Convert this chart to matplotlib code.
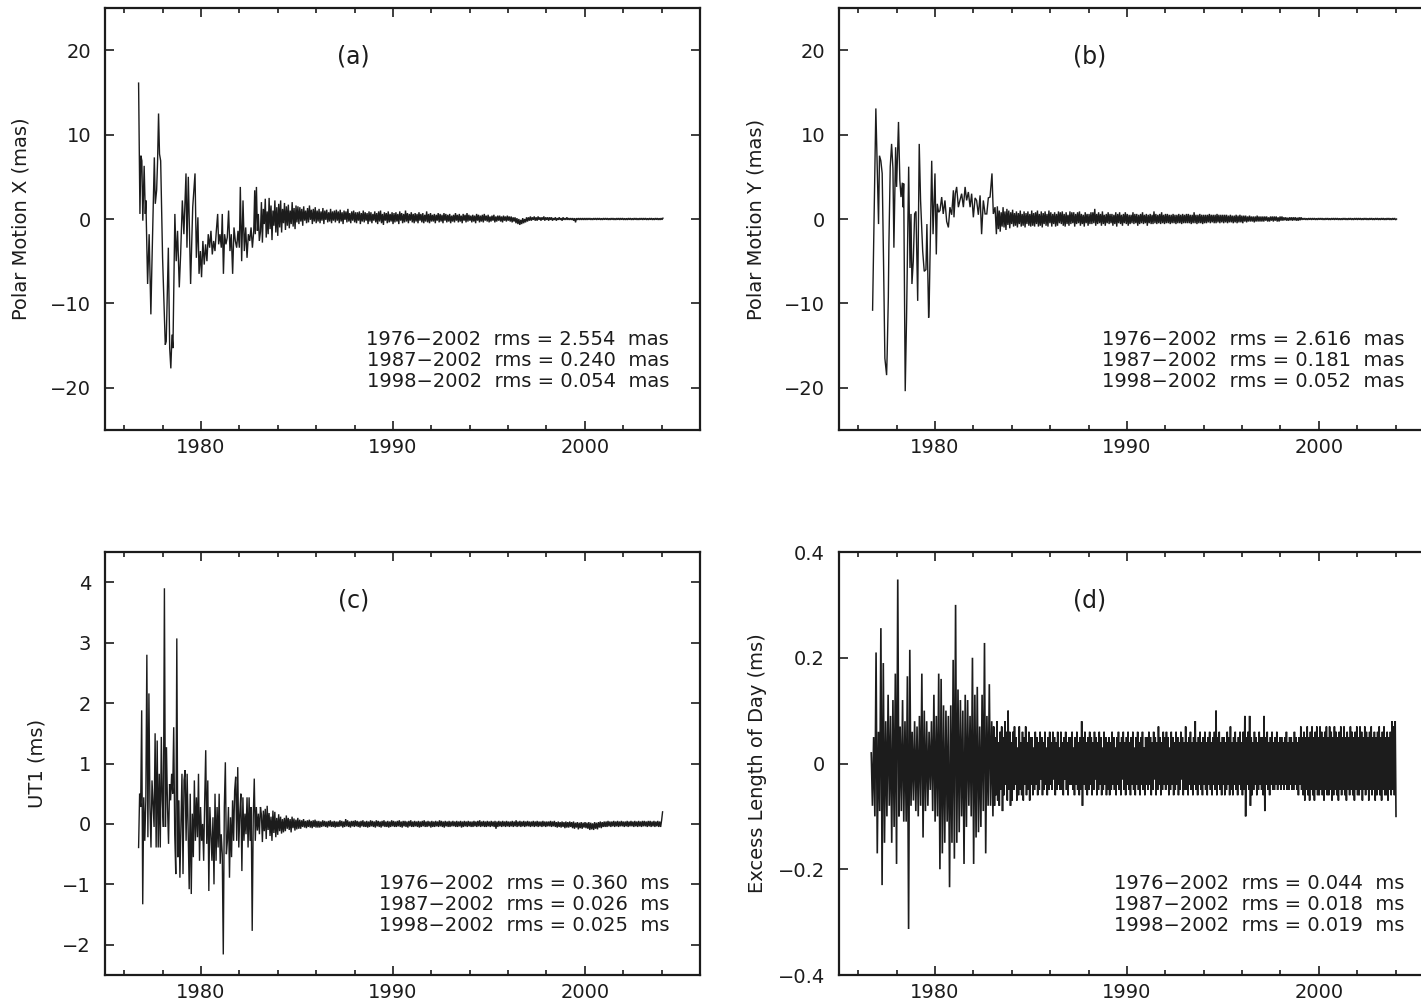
import numpy as np
import matplotlib
matplotlib.use("Agg")
import matplotlib.pyplot as plt
from matplotlib.ticker import MultipleLocator, FuncFormatter

plt.rcParams['font.family'] = ['DejaVu Sans']
plt.rcParams['axes.unicode_minus'] = True

# ---------------- data ----------------
# Panel (a): Polar motion X residuals (mas)
a_early_t = [1976.75, 1976.82, 1976.87, 1976.92, 1976.97, 1977.04, 1977.10, 1977.13, 1977.22, 1977.30,
             1977.39, 1977.44, 1977.57, 1977.62, 1977.69, 1977.74, 1977.79, 1977.84, 1977.90, 1978.00,
             1978.14, 1978.19, 1978.30, 1978.37, 1978.43, 1978.49, 1978.54, 1978.64, 1978.71, 1978.78,
             1978.87, 1978.94, 1979.03, 1979.11, 1979.22, 1979.27, 1979.34, 1979.46, 1979.57, 1979.69,
             1979.76, 1979.84, 1979.90, 1979.97, 1980.03, 1980.10, 1980.17, 1980.24, 1980.31, 1980.38,
             1980.45, 1980.52, 1980.59, 1980.66, 1980.73, 1980.80, 1980.87, 1980.92, 1980.99, 1981.06,
             1981.11, 1981.17, 1981.23, 1981.30, 1981.37, 1981.44, 1981.51, 1981.58, 1981.65, 1981.72,
             1981.79, 1981.86, 1981.93, 1982.00, 1982.05, 1982.12, 1982.19, 1982.26, 1982.33, 1982.40,
             1982.47, 1982.54, 1982.61, 1982.68, 1982.75, 1982.80, 1982.83, 1982.89, 1982.94, 1982.99,
             1983.04]
a_early_v = [16.1, 0.6, 7.5, 6.9, -0.2, 6.3, 0.6, 2.2, -7.7, -1.8,
             -11.3, -5.8, 7.3, 1.8, 3.4, 6.9, 12.5, 7.7, 6.9, -4.6,
             -14.9, -14.5, -3.4, -15.3, -17.7, -13.7, -15.3, 0.6, -5.0, -1.4,
             -8.1, -4.2, 2.2, -1.8, 5.4, -3.4, 5.0, -7.7, 1.4, 5.4,
             -4.6, 0.2, -6.5, -3.8, -6.9, -2.6, -5.4, -3.0, -5.0, -1.8,
             -3.4, -1.4, -4.2, -2.6, -3.8, -1.4, 0.6, -3.0, -1.8, -3.4,
             0.6, -6.5, -1.8, -3.0, -2.2, 1.0, -3.8, -1.8, -6.5, -1.0,
             -2.6, -3.4, -1.4, -3.4, 3.8, -5.0, 2.2, -3.8, -1.0, -4.6,
             -1.8, -2.6, -1.0, -3.4, -1.4, 3.4, -1.8, 3.8, -1.4, 0.6,
             -2.6]
a_late_span = (1983.10, 2004.07)
a_late_v = [
    -1.5, 2.0, -2.8, 1.2, -0.6, 2.4, -2.2, 0.9, -1.8, 2.5, -1.2, 1.6, -2.5, 1.0, -0.8, 2.2, -1.6, 1.4, -2.0, 1.8,
    -1.0, 2.2, -1.6, 1.2, -0.5, 1.9, -1.3, 1.5, -0.8, 1.7, -1.1, 1.0, -0.6, 2.0, -0.9, 1.3, -1.2, 1.6, -0.4, 1.5,
    -0.6, 1.4, -0.3, 1.2, -0.8, 1.5, -0.2, 1.0, -0.5, 1.3, -0.4, 1.6, -0.1, 1.1, -0.6, 1.2, -0.3, 1.4, -0.5, 1.0,
    -0.3, 1.2, -0.5, 0.9, -0.2, 1.3, -0.6, 1.0, -0.1, 1.1, -0.4, 0.8, -0.3, 1.2, -0.5, 0.9, -0.2, 1.0, -0.4, 1.1,
    -0.2, 0.9, -0.5, 1.1, -0.3, 0.8, -0.6, 1.0, -0.1, 0.9, -0.4, 1.2, -0.3, 0.7, -0.5, 0.9, -0.2, 1.0, -0.4, 0.8,
    -0.5, 0.8, -0.2, 0.9, -0.6, 0.7, -0.3, 1.0, -0.4, 0.8, -0.2, 0.7, -0.6, 0.9, -0.3, 0.8, -0.5, 0.6, -0.2, 0.9,
    -0.4, 0.7, -0.6, 0.9, -0.3, 1.0, -0.5, 0.6, -0.7, 0.8, -0.2, 0.7, -0.5, 0.9, -0.4, 0.6, -0.3, 0.8, -0.6, 0.7,
    -0.4, 0.8, -0.3, 0.6, -0.6, 0.9, -0.2, 0.7, -0.5, 0.6, -0.4, 1.0, -0.3, 0.7, -0.5, 0.6, -0.2, 0.8, -0.4, 0.6,
    -0.5, 0.7, -0.3, 0.6, -0.5, 0.8, -0.2, 0.6, -0.4, 0.7, -0.5, 0.5, -0.3, 0.9, -0.4, 0.6, -0.5, 0.7, -0.3, 0.5,
    -0.3, 0.6, -0.5, 0.5, -0.2, 0.7, -0.4, 0.6, -0.3, 0.5, -0.5, 0.7, -0.2, 0.6, -0.4, 0.5, -0.3, 0.6, -0.5, 0.4,
    -0.3, 0.5, -0.4, 0.7, -0.2, 0.5, -0.4, 0.6, -0.3, 0.4, -0.5, 0.6, -0.2, 0.5, -0.4, 0.7, -0.3, 0.5, -0.2, 0.4,
    -0.4, 0.5, -0.3, 0.4, -0.5, 0.6, -0.2, 0.5, -0.4, 0.4, -0.3, 0.5, -0.4, 0.6, -0.2, 0.4, -0.3, 0.5, -0.4, 0.3,
    -0.3, 0.4, -0.2, 0.5, -0.4, 0.3, -0.3, 0.4, -0.2, 0.4, -0.3, 0.3, -0.4, 0.4, -0.2, 0.3, -0.3, 0.4, -0.2, 0.3,
    -0.3, 0.3, -0.4, 0.2, -0.3, 0.2, -0.5, 0.1, -0.6, 0.0, -0.7, -0.1, -0.6, 0.1, -0.5, 0.0, -0.4, 0.2, -0.3, 0.2,
    -0.2, 0.3, -0.2, 0.2, -0.1, 0.3, -0.2, 0.2, -0.2, 0.3, -0.1, 0.2, -0.2, 0.2, -0.1, 0.3, -0.2, 0.2, -0.1, 0.2,
    -0.2, 0.2, -0.1, 0.2, -0.2, 0.1, -0.1, 0.2, -0.2, 0.1, -0.1, 0.2, -0.1, 0.1, -0.2, 0.2, -0.1, 0.1, -0.1, 0.2,
    -0.1, 0.1, -0.1, 0.1, -0.1, 0.1, -0.2, 0.1, -0.4, 0.1, -0.1, 0.1, -0.1, 0.1, -0.1, 0.1, -0.1, 0.1, -0.1, 0.1,
    -0.1, 0.1, -0.08, 0.1, -0.1, 0.08, -0.1, 0.1, -0.08, 0.1, -0.1, 0.1, -0.08, 0.1, -0.1, 0.08, -0.1, 0.1, -0.08, 0.1,
    -0.08, 0.1, -0.1, 0.08, -0.1, 0.1, -0.08, 0.1, -0.1, 0.08, -0.1, 0.1, -0.08, 0.1, -0.1, 0.1, -0.08, 0.1, -0.1, 0.08,
    -0.1, 0.08, -0.1, 0.1, -0.08, 0.1, -0.1, 0.08, -0.1, 0.1, -0.08, 0.1, -0.1, 0.08, -0.1, 0.1, -0.08, 0.1, -0.1, 0.1,
    -0.08, 0.1, -0.1, 0.08, -0.1, 0.1, -0.08, 0.1, -0.1, 0.08, -0.1, 0.1, -0.08, 0.1, -0.1, 0.08, -0.1, 0.1, -0.08, 0.1]

# Panel (b): Polar motion Y residuals (mas)
b_early_t = [1976.75, 1976.92, 1977.01, 1977.06, 1977.11, 1977.18, 1977.25, 1977.32, 1977.39, 1977.48,
             1977.51, 1977.57, 1977.60, 1977.67, 1977.74, 1977.81, 1977.86, 1977.95, 1978.00, 1978.10,
             1978.17, 1978.23, 1978.30, 1978.33, 1978.37, 1978.45, 1978.52, 1978.63, 1978.70, 1978.75,
             1978.80, 1978.87, 1978.94, 1979.01, 1979.10, 1979.18, 1979.25, 1979.36, 1979.44, 1979.53,
             1979.58, 1979.67, 1979.70, 1979.83, 1979.90, 1980.00, 1980.07, 1980.12, 1980.19, 1980.26,
             1980.35, 1980.43, 1980.52, 1980.61, 1980.70, 1980.78, 1980.87, 1980.96, 1980.99, 1981.06,
             1981.13, 1981.22, 1981.30, 1981.39, 1981.48, 1981.57, 1981.65, 1981.74, 1981.83, 1981.91,
             1982.00, 1982.09, 1982.17, 1982.26, 1982.35, 1982.43, 1982.52, 1982.61, 1982.70, 1982.78,
             1982.87, 1982.97, 1983.04, 1983.13]
b_early_v = [-10.8, 13.1, 4.6, -0.6, 7.5, 6.9, 5.4, -5.0, -16.5, -18.5,
             -16.0, -9.3, -3.0, 6.2, 8.9, 6.0, -3.4, 8.5, 3.8, 11.5,
             4.6, 2.6, 4.3, 1.4, 4.2, -20.4, -11.7, 6.2, -5.8, 0.6,
             -7.7, -5.0, 0.6, 0.9, -9.7, 8.9, 2.2, -3.8, -6.2, -6.0,
             -0.6, -11.7, -10.0, 6.9, -1.8, 5.4, -4.2, 1.8, 0.8, 1.0,
             2.6, 0.6, 2.2, -0.3, -1.0, 1.4, 0.5, 3.4, 0.2, 3.0,
             3.8, 1.4, 2.2, 3.0, 1.4, 3.8, 2.2, 3.2, 1.4, 3.0,
             0.2, 2.5, 2.2, 0.5, 2.8, -1.8, 2.2, 0.6, 0.6, 2.5,
             2.6, 5.4, 0.6, 1.4]
b_late_span = (1983.20, 2004.05)
b_late_v = [
    -1.8, 1.5, -1.2, 1.0, -1.5, 0.8, -0.9, 1.4, -1.0, 0.9, -1.3, 1.2, -0.7, 1.0, -1.1, 0.8, -0.6, 1.1, -0.9, 0.7,
    -0.8, 0.9, -1.0, 0.7, -0.6, 1.0, -0.9, 0.6, -0.8, 0.9, -1.0, 0.7, -0.6, 0.9, -0.8, 0.6, -0.9, 1.0, -0.8, 0.7,
    -0.9, 0.8, -0.6, 1.0, -0.9, 0.6, -0.8, 0.9, -1.0, 0.7, -0.6, 0.9, -0.8, 0.6, -0.9, 1.0, -0.5, 0.8, -0.9, 0.6,
    -0.6, 0.8, -0.9, 0.6, -0.8, 0.9, -0.5, 0.8, -0.6, 0.9, -0.8, 0.6, -0.9, 0.8, -0.6, 0.5, -0.8, 0.9, -0.6, 0.8,
    -0.5, 0.8, -0.9, 0.6, -0.6, 0.8, -0.5, 0.9, -0.8, 0.6, -0.6, 0.5, -0.9, 0.8, -0.5, 0.6, -0.8, 0.6, -0.6, 0.8,
    -0.6, 0.8, -0.5, 1.2, -0.8, 0.6, -0.6, 0.8, -0.5, 0.6, -0.8, 0.9, -0.6, 0.5, -0.8, 0.6, -0.5, 0.8, -0.6, 0.6,
    -0.5, 0.6, -0.8, 0.5, -0.6, 0.8, -0.9, 0.6, -0.5, 0.8, -0.6, 0.5, -0.8, 0.6, -0.5, 0.8, -0.6, 0.6, -0.8, 0.5,
    -0.6, 0.5, -0.5, 0.8, -0.6, 0.6, -0.5, 0.6, -0.8, 0.5, -0.6, 0.6, -0.5, 0.8, -0.6, 0.5, -0.5, 0.6, -0.8, 0.5,
    -0.5, 0.6, -0.6, 0.5, -0.6, 0.9, -0.5, 0.6, -0.6, 0.5, -0.5, 0.6, -0.6, 0.8, -0.5, 0.5, -0.6, 0.6, -0.5, 0.6,
    -0.5, 0.5, -0.6, 0.5, -0.5, 0.6, -0.5, 0.5, -0.6, 0.5, -0.5, 0.6, -0.5, 0.5, -0.6, 0.6, -0.5, 0.5, -0.5, 0.6,
    -0.5, 0.6, -0.5, 0.5, -0.6, 0.5, -0.5, 0.8, -0.5, 0.5, -0.6, 0.5, -0.5, 0.6, -0.5, 0.5, -0.6, 0.5, -0.5, 0.5,
    -0.5, 0.5, -0.4, 0.6, -0.5, 0.5, -0.4, 0.5, -0.5, 0.5, -0.5, 0.6, -0.4, 0.5, -0.5, 0.5, -0.4, 0.5, -0.5, 0.5,
    -0.4, 0.5, -0.5, 0.4, -0.4, 0.5, -0.4, 0.4, -0.5, 0.4, -0.4, 0.5, -0.5, 0.4, -0.4, 0.5, -0.4, 0.4, -0.5, 0.4,
    -0.3, 0.4, -0.4, 0.3, -0.3, 0.4, -0.3, 0.3, -0.3, 0.3, -0.4, 0.3, -0.3, 0.4, -0.3, 0.3, -0.3, 0.3, -0.3, 0.3,
    -0.3, 0.3, -0.2, 0.3, -0.3, 0.2, -0.3, 0.3, -0.2, 0.3, -0.3, 0.3, -0.2, 0.3, -0.3, 0.2, -0.3, 0.3, -0.2, 0.3,
    -0.2, 0.2, -0.15, 0.2, -0.2, 0.15, -0.2, 0.2, -0.15, 0.2, -0.2, 0.2, -0.15, 0.2, -0.2, 0.15, -0.2, 0.2, -0.15, 0.2,
    -0.1, 0.1, -0.08, 0.1, -0.1, 0.08, -0.1, 0.1, -0.08, 0.1, -0.1, 0.1, -0.08, 0.1, -0.1, 0.08, -0.1, 0.1, -0.08, 0.1,
    -0.08, 0.1, -0.1, 0.08, -0.1, 0.1, -0.08, 0.1, -0.1, 0.08, -0.1, 0.1, -0.08, 0.1, -0.1, 0.1, -0.08, 0.1, -0.1, 0.08,
    -0.1, 0.08, -0.1, 0.1, -0.08, 0.1, -0.1, 0.08, -0.1, 0.1, -0.08, 0.1, -0.1, 0.08, -0.1, 0.1, -0.08, 0.1, -0.1, 0.1,
    -0.08, 0.1, -0.1, 0.08, -0.1, 0.1, -0.08, 0.1, -0.1, 0.08, -0.1, 0.1, -0.08, 0.1, -0.1, 0.08, -0.1, 0.1, -0.08, 0.1,
    -0.1, 0.08, -0.1, 0.1, -0.08, 0.1, -0.1, 0.08, -0.1, 0.1, -0.08, 0.1, -0.1, 0.08, -0.1, 0.1, -0.08, 0.1, -0.1, 0.0]

# Panel (c): UT1 residuals (ms)
c_early_span = (1976.75, 1983.10)
c_early_v = [-0.39, 0.50, 0.28, 1.88, -1.33, 0.44, -0.28, 0.39, 2.80, -0.22,
             2.16, 0.28, -0.39, 0.72, 0.33, -0.05, 1.50, -0.39, 1.38, -0.39,
             0.83, -0.39, 1.44, 0.39, -0.05, 3.90, -0.05, 1.27, 0.28, -0.33,
             0.66, 0.39, 0.83, 0.50, 1.60, -0.17, -0.83, 3.07, -0.55, 0.39,
             -0.89, 0.00, 0.83, -0.83, 0.72, 0.89, -0.28, 0.83, -0.17, -1.08,
             0.50, -1.16, 0.17, -0.55, 0.72, -0.28, 0.44, -0.22, 0.83, -0.61,
             0.28, -0.28, 0.00, -0.61, 0.39, 1.22, -0.33, 0.72, -1.11, 0.28,
             -0.17, -0.61, 0.11, -1.00, 0.50, -0.61, 0.28, -0.39, 0.50, -0.66,
             -0.17, -0.50, -2.16, 0.28, 1.02, -0.50, -0.28, 0.28, -0.89, 0.11,
             -0.55, 0.39, -0.28, 0.55, 0.78, -0.28, 0.94, -0.39, 0.17, 0.50,
             -0.78, 0.44, -0.28, 0.17, -0.17, 0.44, -0.39, 0.44, -0.28, 0.28,
             -1.77, 0.11, 0.75, -0.28, 0.28, -0.11, 0.17, -0.17, 0.28]
c_late_span = (1983.15, 2004.05)
c_late_v = [
    0.15, -0.30, 0.22, -0.12, 0.25, -0.25, 0.30, -0.10, 0.18, -0.20, 0.12, -0.28, 0.22, -0.15, 0.20, -0.22, 0.10, -0.18, 0.16, -0.12,
    0.12, -0.16, 0.08, -0.14, 0.10, -0.12, 0.14, -0.08, 0.10, -0.10, 0.08, -0.14, 0.12, -0.07, 0.09, -0.11, 0.07, -0.09, 0.10, -0.08,
    0.07, -0.08, 0.06, -0.05, 0.08, -0.06, 0.05, -0.07, 0.06, -0.05, 0.07, -0.06, 0.05, -0.07, 0.06, -0.05, 0.07, -0.06, 0.05, -0.06,
    0.05, -0.06, 0.04, -0.05, 0.06, -0.04, 0.05, -0.05, 0.04, -0.06, 0.05, -0.04, 0.06, -0.05, 0.04, -0.05, 0.05, -0.06, 0.04, -0.05,
    0.04, -0.05, 0.06, -0.04, 0.05, -0.06, 0.04, -0.05, 0.08, -0.04, 0.06, -0.05, 0.04, -0.06, 0.05, -0.04, 0.05, -0.05, 0.06, -0.04,
    0.05, -0.05, 0.04, -0.06, 0.05, -0.04, 0.06, -0.05, 0.04, -0.05, 0.05, -0.06, 0.04, -0.05, 0.06, -0.04, 0.05, -0.05, 0.04, -0.06,
    0.06, -0.04, 0.05, -0.05, 0.04, -0.06, 0.05, -0.04, 0.06, -0.05, 0.04, -0.05, 0.05, -0.06, 0.04, -0.05, 0.06, -0.04, 0.05, -0.05,
    0.04, -0.05, 0.05, -0.04, 0.06, -0.05, 0.04, -0.06, 0.05, -0.04, 0.05, -0.05, 0.04, -0.06, 0.05, -0.04, 0.06, -0.05, 0.04, -0.05,
    0.05, -0.04, 0.04, -0.05, 0.05, -0.06, 0.04, -0.05, 0.05, -0.04, 0.06, -0.05, 0.04, -0.05, 0.05, -0.04, 0.04, -0.06, 0.05, -0.05,
    0.04, -0.05, 0.05, -0.04, 0.04, -0.05, 0.06, -0.04, 0.05, -0.05, 0.04, -0.06, 0.05, -0.04, 0.04, -0.05, 0.05, -0.05, 0.04, -0.04,
    0.05, -0.04, 0.04, -0.05, 0.05, -0.05, 0.04, -0.04, 0.05, -0.06, 0.04, -0.05, 0.05, -0.04, 0.04, -0.05, 0.05, -0.04, 0.04, -0.05,
    0.04, -0.05, 0.05, -0.04, 0.04, -0.05, 0.05, -0.04, 0.06, -0.05, 0.04, -0.04, 0.05, -0.05, 0.04, -0.05, 0.05, -0.04, 0.04, -0.05,
    0.05, -0.04, 0.04, -0.05, 0.05, -0.08, 0.04, -0.05, 0.05, -0.04, 0.04, -0.05, 0.05, -0.04, 0.04, -0.05, 0.05, -0.04, 0.04, -0.05,
    0.04, -0.04, 0.05, -0.05, 0.04, -0.04, 0.06, -0.05, 0.04, -0.04, 0.05, -0.05, 0.04, -0.04, 0.05, -0.05, 0.04, -0.04, 0.05, -0.04,
    0.04, -0.05, 0.04, -0.04, 0.05, -0.05, 0.04, -0.04, 0.05, -0.05, 0.04, -0.04, 0.04, -0.05, 0.05, -0.04, 0.04, -0.05, 0.04, -0.04,
    0.04, -0.04, 0.05, -0.05, 0.04, -0.04, 0.05, -0.05, 0.03, -0.06, 0.04, -0.05, 0.03, -0.06, 0.04, -0.05, 0.03, -0.07, 0.04, -0.06,
    0.03, -0.06, 0.04, -0.05, 0.03, -0.07, 0.04, -0.08, 0.02, -0.06, 0.03, -0.09, 0.02, -0.07, 0.03, -0.08, 0.02, -0.06, 0.03, -0.07,
    0.02, -0.08, 0.03, -0.10, 0.02, -0.09, 0.01, -0.10, 0.03, -0.08, 0.02, -0.09, 0.03, -0.06, 0.04, -0.07, 0.03, -0.05, 0.04, -0.05,
    0.04, -0.05, 0.05, -0.04, 0.04, -0.05, 0.04, -0.04, 0.05, -0.05, 0.04, -0.04, 0.05, -0.05, 0.04, -0.04, 0.05, -0.04, 0.04, -0.05,
    0.04, -0.04, 0.05, -0.05, 0.04, -0.04, 0.05, -0.04, 0.04, -0.05, 0.05, -0.04, 0.04, -0.05, 0.05, -0.04, 0.04, -0.05, 0.05, -0.04,
    0.05, -0.04, 0.04, -0.05, 0.05, -0.04, 0.05, -0.05, 0.04, -0.04, 0.05, -0.05, 0.04, -0.04, 0.05, -0.05, 0.04, -0.05, 0.06, 0.20]

# Panel (d): excess length of day residuals (ms)
d_early_span = (1976.68, 1983.02)
d_early_v = [0.02, -0.08, 0.05, -0.10, 0.21, -0.17, 0.06, -0.09, 0.256, -0.23,
             0.19, -0.15, 0.08, -0.10, 0.13, -0.08, 0.09, -0.15, 0.12, -0.12,
             0.17, -0.19, 0.348, -0.10, 0.07, -0.09, 0.12, -0.11, 0.08, -0.11,
             0.165, -0.313, 0.215, -0.08, 0.06, -0.07, 0.08, -0.09, 0.07, -0.10,
             0.09, -0.08, 0.17, -0.14, 0.10, -0.09, 0.08, -0.08, 0.06, -0.05,
             0.08, -0.09, 0.13, -0.11, 0.09, -0.10, 0.17, -0.20, 0.16, -0.17,
             0.11, -0.15, 0.10, -0.11, 0.09, -0.234, 0.11, -0.15, 0.196, -0.18,
             0.30, -0.15, 0.14, -0.13, 0.12, -0.10, 0.10, -0.19, 0.13, -0.12,
             0.12, -0.08, 0.09, -0.10, 0.20, -0.19, 0.13, -0.14, 0.145, -0.13,
             0.07, -0.12, 0.13, -0.09, 0.228, -0.17, 0.09, -0.08, 0.15, -0.08,
             0.08, -0.10]
d_late_span = (1983.06, 2004.02)
d_late_v = [
    0.07, -0.08, 0.05, -0.06, 0.08, -0.07, 0.04, -0.08, 0.06, -0.05, 0.07, -0.09, 0.05, -0.06, 0.08, -0.04, 0.06, -0.07, 0.10, -0.05, 0.06, -0.08, 0.04, -0.07,
    0.06, -0.05, 0.07, -0.04, 0.05, -0.07, 0.03, -0.06, 0.07, -0.05, 0.04, -0.06, 0.06, -0.07, 0.05, -0.04, 0.07, -0.06, 0.04, -0.05, 0.06, -0.07, 0.05, -0.04,
    0.05, -0.06, 0.03, -0.05, 0.06, -0.04, 0.05, -0.06, 0.04, -0.05, 0.06, -0.03, 0.05, -0.06, 0.04, -0.05, 0.06, -0.04, 0.03, -0.06, 0.05, -0.05, 0.06, -0.04,
    0.04, -0.05, 0.06, -0.03, 0.05, -0.06, 0.04, -0.05, 0.06, -0.04, 0.03, -0.05, 0.06, -0.05, 0.04, -0.06, 0.05, -0.03, 0.06, -0.05, 0.04, -0.06, 0.05, -0.04,
    0.05, -0.04, 0.06, -0.05, 0.03, -0.06, 0.05, -0.04, 0.06, -0.05, 0.04, -0.06, 0.05, -0.05, 0.08, -0.08, 0.05, -0.04, 0.06, -0.05, 0.04, -0.06, 0.05, -0.05,
    0.06, -0.04, 0.05, -0.06, 0.04, -0.05, 0.06, -0.03, 0.05, -0.06, 0.04, -0.05, 0.06, -0.04, 0.05, -0.06, 0.03, -0.05, 0.06, -0.04, 0.05, -0.06, 0.04, -0.05,
    0.05, -0.06, 0.04, -0.05, 0.06, -0.04, 0.05, -0.05, 0.03, -0.06, 0.05, -0.04, 0.06, -0.05, 0.04, -0.06, 0.05, -0.03, 0.06, -0.05, 0.04, -0.06, 0.05, -0.04,
    0.06, -0.05, 0.04, -0.06, 0.05, -0.04, 0.06, -0.05, 0.03, -0.06, 0.05, -0.04, 0.06, -0.05, 0.04, -0.06, 0.05, -0.04, 0.06, -0.05, 0.03, -0.06, 0.05, -0.04,
    0.05, -0.05, 0.06, -0.04, 0.05, -0.06, 0.04, -0.05, 0.06, -0.03, 0.05, -0.06, 0.04, -0.05, 0.07, -0.04, 0.05, -0.06, 0.04, -0.05, 0.06, -0.04, 0.05, -0.05,
    0.06, -0.04, 0.05, -0.06, 0.03, -0.05, 0.06, -0.04, 0.05, -0.06, 0.04, -0.05, 0.06, -0.04, 0.05, -0.06, 0.04, -0.05, 0.06, -0.03, 0.05, -0.06, 0.04, -0.05,
    0.07, -0.05, 0.04, -0.06, 0.05, -0.04, 0.06, -0.05, 0.04, -0.06, 0.05, -0.04, 0.08, -0.05, 0.04, -0.06, 0.05, -0.04, 0.06, -0.05, 0.04, -0.06, 0.05, -0.04,
    0.06, -0.05, 0.04, -0.06, 0.05, -0.04, 0.06, -0.05, 0.04, -0.06, 0.05, -0.04, 0.06, -0.05, 0.10, -0.06, 0.05, -0.04, 0.06, -0.05, 0.04, -0.06, 0.05, -0.04,
    0.05, -0.06, 0.04, -0.05, 0.06, -0.04, 0.05, -0.06, 0.07, -0.05, 0.04, -0.06, 0.05, -0.04, 0.06, -0.05, 0.04, -0.06, 0.05, -0.04, 0.06, -0.05, 0.04, -0.06,
    0.06, -0.05, 0.09, -0.10, 0.05, -0.04, 0.06, -0.05, 0.09, -0.08, 0.05, -0.06, 0.04, -0.05, 0.06, -0.04, 0.05, -0.06, 0.04, -0.05, 0.06, -0.04, 0.05, -0.05,
    0.05, -0.06, 0.09, -0.09, 0.05, -0.04, 0.06, -0.05, 0.04, -0.06, 0.05, -0.04, 0.06, -0.05, 0.04, -0.05, 0.05, -0.04, 0.06, -0.05, 0.04, -0.04, 0.05, -0.05,
    0.05, -0.04, 0.04, -0.05, 0.05, -0.04, 0.06, -0.05, 0.04, -0.05, 0.05, -0.04, 0.05, -0.05, 0.04, -0.05, 0.06, -0.04, 0.05, -0.05, 0.04, -0.06, 0.05, -0.04,
    0.07, -0.05, 0.05, -0.06, 0.06, -0.07, 0.05, -0.05, 0.07, -0.06, 0.05, -0.07, 0.06, -0.05, 0.07, -0.06, 0.05, -0.07, 0.06, -0.05, 0.07, -0.06, 0.05, -0.06,
    0.07, -0.05, 0.06, -0.06, 0.05, -0.07, 0.06, -0.05, 0.07, -0.06, 0.05, -0.06, 0.07, -0.05, 0.06, -0.07, 0.05, -0.06, 0.07, -0.05, 0.06, -0.06, 0.05, -0.07,
    0.06, -0.05, 0.07, -0.06, 0.05, -0.05, 0.07, -0.06, 0.05, -0.07, 0.06, -0.05, 0.05, -0.06, 0.07, -0.05, 0.06, -0.06, 0.05, -0.07, 0.06, -0.05, 0.07, -0.06,
    0.05, -0.06, 0.07, -0.05, 0.06, -0.07, 0.05, -0.05, 0.07, -0.06, 0.06, -0.05, 0.05, -0.07, 0.06, -0.05, 0.07, -0.06, 0.05, -0.05, 0.06, -0.07, 0.05, -0.06,
    0.06, -0.05, 0.07, -0.06, 0.05, -0.07, 0.06, -0.05, 0.07, -0.06, 0.05, -0.06, 0.06, -0.07, 0.05, -0.05, 0.06, -0.06, 0.08, -0.05, 0.07, -0.06, 0.08, -0.10]

panel_tags = ['(a)', '(b)', '(c)', '(d)']
ylabels = ['Polar Motion X (mas)', 'Polar Motion Y (mas)', 'UT1 (ms)', 'Excess Length of Day (ms)']
rms_periods = ['1976\u22122002', '1987\u22122002', '1998\u22122002']
rms_a = ['2.554', '0.240', '0.054']
rms_b = ['2.616', '0.181', '0.052']
rms_c = ['0.360', '0.026', '0.025']
rms_d = ['0.044', '0.018', '0.019']
units = ['mas', 'mas', 'ms', 'ms']
ylims = [(-25, 25), (-25, 25), (-2.5, 4.5), (-0.4, 0.4)]
ysteps = [10, 10, 1, 0.2]

# ---------------- series assembly ----------------
def series_explicit(te, ve, span, vl):
    tl = np.linspace(span[0], span[1], len(vl))
    return np.concatenate([te, tl]), np.concatenate([ve, vl])

def series_uniform(span_e, ve, span_l, vl):
    te = np.linspace(span_e[0], span_e[1], len(ve))
    tl = np.linspace(span_l[0], span_l[1], len(vl))
    return np.concatenate([te, tl]), np.concatenate([ve, vl])

series = [
    series_explicit(a_early_t, a_early_v, a_late_span, a_late_v),
    series_explicit(b_early_t, b_early_v, b_late_span, b_late_v),
    series_uniform(c_early_span, c_early_v, c_late_span, c_late_v),
    series_uniform(d_early_span, d_early_v, d_late_span, d_late_v),
]
rms_vals = [rms_a, rms_b, rms_c, rms_d]

# ---------------- figure ----------------
fig = plt.figure(figsize=(14.21, 10.05), dpi=100)
W, H = 1421.0, 1005.0
rects = [
    [105 / W, 1 - 430 / H, 595 / W, 422 / H],
    [839 / W, 1 - 430 / H, 595 / W, 422 / H],
    [105 / W, 1 - 975 / H, 595 / W, 423 / H],
    [839 / W, 1 - 975 / H, 595 / W, 423 / H],
]
label_x = [-0.126, -0.123, -0.098, -0.121]
tag_x = [0.418, 0.421, 0.418, 0.421]
rms_x = [0.948, 0.951, 0.948, 0.951]
line_w = [1.0, 1.0, 1.0, 1.2]

ink = '#1c1c1c'

def yfmt(v, pos):
    if abs(v) < 1e-9:
        v = 0.0
    return f"{v:g}".replace('-', '\u2212')

for i in range(4):
    ax = fig.add_axes(rects[i])
    t, v = series[i]
    ax.plot(t, v, color=ink, lw=line_w[i], solid_joinstyle='miter')
    ax.set_xlim(1975, 2006)
    ax.set_ylim(*ylims[i])
    ax.xaxis.set_major_locator(MultipleLocator(10))
    ax.xaxis.set_minor_locator(MultipleLocator(2))
    ax.yaxis.set_major_locator(MultipleLocator(ysteps[i]))
    ax.xaxis.set_major_formatter(FuncFormatter(lambda x, p: f"{x:.0f}"))
    ax.yaxis.set_major_formatter(FuncFormatter(yfmt))
    ax.tick_params(which='both', direction='in', top=True, right=True,
                   colors=ink, labelsize=14, width=1.2)
    ax.tick_params(which='major', length=6.5)
    ax.tick_params(which='minor', length=3.6)
    ax.tick_params(axis='y', pad=10)
    ax.tick_params(axis='x', pad=6)
    for s in ax.spines.values():
        s.set_linewidth(1.6)
        s.set_color(ink)
    ax.set_ylabel(ylabels[i], fontsize=14, color=ink)
    ax.yaxis.set_label_coords(label_x[i], 0.5)
    ax.text(tag_x[i], 0.886, panel_tags[i], transform=ax.transAxes,
            ha='center', va='center', fontsize=17, color=ink)
    for k in range(3):
        ax.text(rms_x[i], 0.2155 - 0.0497 * k,
                f"{rms_periods[k]}  rms = {rms_vals[i][k]}  {units[i]}",
                transform=ax.transAxes, ha='right', va='center',
                fontsize=14, color=ink)

fig.savefig('out.png', dpi=100)
